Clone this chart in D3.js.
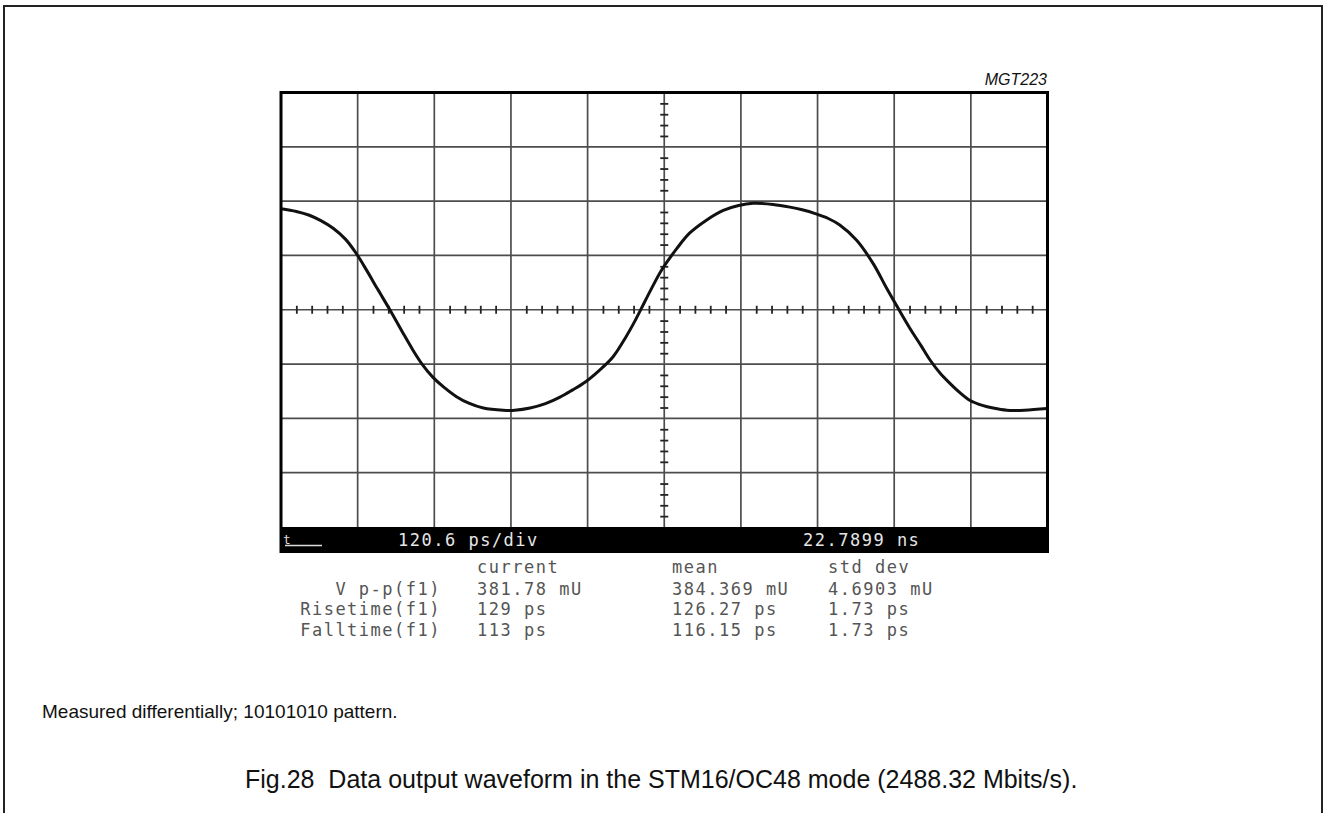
<!DOCTYPE html>
<html>
<head>
<meta charset="utf-8">
<style>
  body { margin: 0; background: #fff; }
  svg { display: block; }
  .scope text { font-family: 'DejaVu Sans Mono', monospace; }
</style>
</head>
<body>
<svg id="graph1" width="1324" height="813"></svg>
<script src="https://d3js.org/d3.v7.min.js"></script>
<script>

// trace, in divisions (x 0..10, y -4..4)
var timeDiv = [0.00, 0.20, 0.37, 0.52, 0.68, 0.84, 0.98, 1.12, 1.26, 1.42, 1.58, 1.72, 1.84, 1.98, 2.12, 2.29, 2.45, 2.64, 2.90, 3.05, 3.25, 3.45, 3.64, 3.80, 3.97, 4.15, 4.33, 4.50, 4.62, 4.70, 4.83, 4.97, 5.16, 5.33, 5.55, 5.77, 5.97, 6.16, 6.42, 6.64, 6.80, 6.97, 7.14, 7.29, 7.51, 7.73, 7.90, 8.05, 8.20, 8.35, 8.47, 8.60, 8.73, 8.86, 8.99, 9.15, 9.29, 9.47, 9.70, 10.0];
var voltDiv = [1.86, 1.81, 1.74, 1.64, 1.50, 1.30, 1.04, 0.72, 0.38, 0.00, -0.40, -0.74, -1.00, -1.24, -1.42, -1.60, -1.72, -1.81, -1.85, -1.85, -1.81, -1.73, -1.61, -1.48, -1.33, -1.12, -0.87, -0.50, -0.20, 0.02, 0.38, 0.74, 1.12, 1.41, 1.65, 1.83, 1.92, 1.96, 1.94, 1.89, 1.84, 1.77, 1.68, 1.56, 1.28, 0.84, 0.40, 0.03, -0.33, -0.66, -0.93, -1.17, -1.36, -1.53, -1.67, -1.76, -1.81, -1.85, -1.85, -1.82];

// graticule
var xDivs = d3.range(0, 11);
var yDivs = d3.range(-4, 5);
var xMinor = d3.range(0.2, 10, 0.2).filter(function(v) { return Math.abs(v - Math.round(v)) > 0.01; });
var yMinor = d3.range(-3.8, 4, 0.2).filter(function(v) { return Math.abs(v - Math.round(v)) > 0.01; });

// readouts
var timebase = "120.6 ps/div";
var delay = "22.7899 ns";
var colHeads = ["current", "mean", "std dev"];
var measNames = ["V p-p(f1)", "Risetime(f1)", "Falltime(f1)"];
var measCurrent = ["381.78 mU", "129 ps", "113 ps"];
var measMean = ["384.369 mU", "126.27 ps", "116.15 ps"];
var measStd = ["4.6903 mU", "1.73 ps", "1.73 ps"];

var svg = d3.select("#graph1");

// page frame (open at the bottom)
svg.append("path")
  .attr("d", "M4,813 V6 H1322 V813")
  .attr("fill", "none")
  .attr("stroke", "#222")
  .attr("stroke-width", 2);

var x = d3.scaleLinear().domain([0, 10]).range([281, 1047.5]);
var y = d3.scaleLinear().domain([-4, 4]).range([527, 92.5]);

var scope = svg.append("g").attr("class", "scope");

// grid lines
scope.selectAll(".vgrid")
  .data(xDivs.slice(1, -1))
  .enter().append("line")
  .attr("x1", function(d) { return x(d); })
  .attr("x2", function(d) { return x(d); })
  .attr("y1", y(4)).attr("y2", y(-4))
  .attr("stroke", "#4d4d4d")
  .attr("stroke-width", 1.7);

scope.selectAll(".hgrid")
  .data(yDivs.slice(1, -1))
  .enter().append("line")
  .attr("x1", x(0)).attr("x2", x(10))
  .attr("y1", function(d) { return y(d); })
  .attr("y2", function(d) { return y(d); })
  .attr("stroke", "#4d4d4d")
  .attr("stroke-width", 1.7);

// small ticks on the centre axes
[d3.axisTop, d3.axisBottom].forEach(function(ax) {
  scope.append("g")
    .attr("transform", "translate(0," + y(0) + ")")
    .call(ax(x).tickValues(xMinor).tickSize(4).tickFormat(""))
    .call(function(g) { g.select(".domain").remove(); })
    .selectAll("line").attr("stroke", "#222").attr("stroke-width", 1.8);
});
[d3.axisLeft, d3.axisRight].forEach(function(ax) {
  scope.append("g")
    .attr("transform", "translate(" + x(5) + ",0)")
    .call(ax(y).tickValues(yMinor).tickSize(4).tickFormat(""))
    .call(function(g) { g.select(".domain").remove(); })
    .selectAll("line").attr("stroke", "#222").attr("stroke-width", 1.8);
});

// the trace
var trace = d3.line()
  .x(function(d, i) { return x(timeDiv[i]); })
  .y(function(d, i) { return y(voltDiv[i]); })
  .curve(d3.curveCatmullRom);

scope.append("path")
  .attr("d", trace(timeDiv))
  .attr("fill", "none")
  .attr("stroke", "#111")
  .attr("stroke-width", 3);

// screen border
scope.append("path")
  .attr("d", "M" + x(0) + "," + y(-4) + " V" + y(4) + " H" + x(10) + " V" + y(-4))
  .attr("fill", "none")
  .attr("stroke", "#000")
  .attr("stroke-width", 3);

// status bar
scope.append("rect")
  .attr("x", x(0) - 1.5).attr("y", y(-4))
  .attr("width", x(10) - x(0) + 3).attr("height", 26)
  .attr("fill", "#000");

scope.append("text").text("t")
  .attr("x", 283).attr("y", 544)
  .style("font-size", "13px")
  .attr("fill", "#ddd");
scope.append("line")
  .attr("x1", 285).attr("x2", 322)
  .attr("y1", 545.5).attr("y2", 545.5)
  .attr("stroke", "#ddd").attr("stroke-width", 1.5);

scope.append("text").text(timebase)
  .attr("x", 398).attr("y", 546)
  .style("font-size", "17px").style("letter-spacing", "1.5px")
  .attr("fill", "#e6e6e6");
scope.append("text").text(delay)
  .attr("x", 803).attr("y", 546)
  .style("font-size", "17px").style("letter-spacing", "1.5px")
  .attr("fill", "#e6e6e6");

// measurement table
var colX = [477, 672, 828];
var rowY = [595, 615, 636];

scope.selectAll(".head")
  .data(colHeads)
  .enter().append("text")
  .text(function(d) { return d; })
  .attr("x", function(d, i) { return colX[i]; })
  .attr("y", 573)
  .style("font-size", "17px").style("letter-spacing", "1.5px")
  .attr("fill", "#555");

scope.selectAll(".name")
  .data(measNames)
  .enter().append("text")
  .text(function(d) { return d; })
  .attr("x", 441)
  .attr("y", function(d, i) { return rowY[i]; })
  .attr("text-anchor", "end")
  .style("font-size", "17px").style("letter-spacing", "1.5px")
  .attr("fill", "#555");

[measCurrent, measMean, measStd].forEach(function(col, c) {
  scope.selectAll(".col" + c)
    .data(col)
    .enter().append("text")
    .text(function(d) { return d; })
    .attr("x", colX[c])
    .attr("y", function(d, i) { return rowY[i]; })
    .style("font-size", "17px").style("letter-spacing", "1.5px")
    .attr("fill", "#555");
});

// labels around the figure
svg.append("text").text("MGT223")
  .attr("x", 1047).attr("y", 85)
  .attr("text-anchor", "end")
  .style("font-family", "'Liberation Sans', Arial, sans-serif")
  .style("font-style", "italic")
  .style("font-size", "16px")
  .attr("fill", "#111");

svg.append("text").text("Measured differentially; 10101010 pattern.")
  .attr("x", 42).attr("y", 718)
  .style("font-family", "'Liberation Sans', Arial, sans-serif")
  .style("font-size", "19px")
  .attr("fill", "#111");

svg.append("text").text("Fig.28  Data output waveform in the STM16/OC48 mode (2488.32 Mbits/s).")
  .attr("x", 245).attr("y", 788)
  .style("white-space", "pre")
  .style("font-family", "'Liberation Sans', Arial, sans-serif")
  .style("font-size", "25px")
  .attr("fill", "#111");

</script>
</body>
</html>
